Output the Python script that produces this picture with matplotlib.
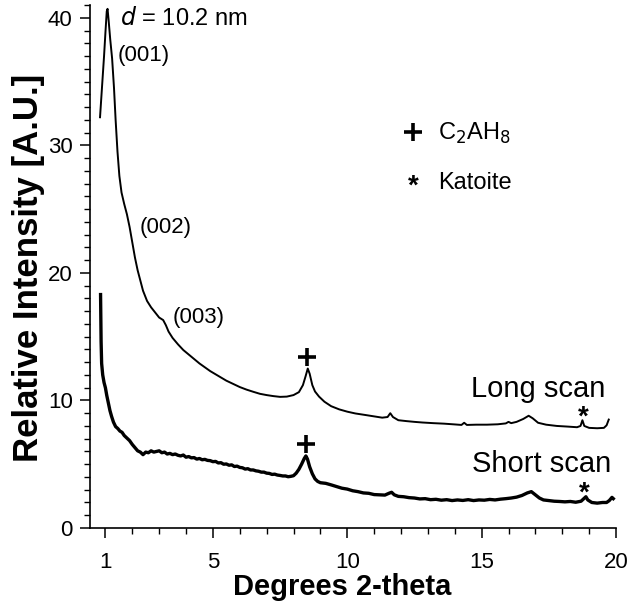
import numpy as np
import matplotlib
matplotlib.use("Agg")
import matplotlib.pyplot as plt
from matplotlib.ticker import MultipleLocator, FixedLocator

plt.rcParams["font.family"] = ["Liberation Sans", "DejaVu Sans"]

# Long scan (2-theta, intensity)
long_x = [0.80, 0.85, 0.90, 0.95, 1.00, 1.05, 1.08, 1.12, 1.18, 1.25, 1.32, 1.38, 1.45,
          1.52, 1.60, 1.70, 1.80, 1.90, 2.00, 2.10, 2.20, 2.30, 2.40, 2.55, 2.70, 2.85,
          3.00, 3.15, 3.25, 3.35, 3.50, 3.70, 3.90, 4.10, 4.30, 4.50, 4.70, 4.90, 5.10,
          5.30, 5.50, 5.75, 6.00, 6.25, 6.50, 6.75, 7.00, 7.25, 7.50, 7.75, 8.00, 8.20,
          8.35, 8.45, 8.53, 8.60, 8.70, 8.80, 8.95, 9.15, 9.40, 9.70, 10.0, 10.3, 10.7,
          11.0, 11.3, 11.5, 11.6, 11.7, 11.9, 12.2, 12.5, 12.8, 13.2, 13.6, 14.0, 14.25,
          14.35, 14.45, 14.8, 15.2, 15.6, 15.9, 16.0, 16.1, 16.3, 16.55, 16.75, 16.9,
          17.1, 17.4, 17.8, 18.2, 18.55, 18.68, 18.75, 18.82, 19.0, 19.3, 19.55, 19.65,
          19.73]
long_y = [32.2, 33.8, 35.4, 37.0, 38.8, 40.5, 40.7, 39.8, 38.3, 36.8, 34.5, 32.0, 29.5,
          27.6, 26.3, 25.4, 24.6, 23.6, 22.4, 21.2, 20.2, 19.4, 18.6, 17.8, 17.3, 16.9,
          16.5, 16.3, 15.9, 15.4, 14.9, 14.4, 13.95, 13.6, 13.25, 12.9, 12.6, 12.3, 12.05,
          11.8, 11.55, 11.3, 11.05, 10.85, 10.68, 10.52, 10.42, 10.34, 10.28, 10.30, 10.42,
          10.65, 11.2, 11.9, 12.5, 12.1, 11.2, 10.7, 10.3, 9.9, 9.55, 9.3, 9.12, 8.98, 8.85,
          8.75, 8.65, 8.7, 9.0, 8.7, 8.45, 8.38, 8.32, 8.27, 8.22, 8.18, 8.12, 8.08,
          8.25, 8.08, 8.1, 8.1, 8.13, 8.2, 8.32, 8.22, 8.32, 8.55, 8.8, 8.6,
          8.25, 8.1, 8.0, 7.95, 7.9, 8.0, 8.45, 8.0, 7.85, 7.82, 7.85, 8.05,
          8.5]

# Short scan
short_x = [0.82, 0.83, 0.84, 0.86, 0.90, 0.95, 1.00, 1.05, 1.10, 1.17, 1.23, 1.30, 1.38,
           1.46, 1.54, 1.62, 1.70, 1.80, 1.90, 2.00, 2.10, 2.20, 2.30, 2.40, 2.50, 2.60,
           2.70, 2.80, 2.90, 3.00, 3.10, 3.20, 3.30, 3.40, 3.50, 3.60, 3.70, 3.80, 3.90,
           4.00, 4.10, 4.20, 4.30, 4.40, 4.50, 4.60, 4.70, 4.80, 4.90, 5.00, 5.10, 5.20,
           5.30, 5.40, 5.50, 5.60, 5.70, 5.80, 5.90, 6.00, 6.10, 6.20, 6.30, 6.40, 6.50,
           6.60, 6.70, 6.80, 6.90, 7.00, 7.10, 7.20, 7.30, 7.40, 7.50, 7.60, 7.70, 7.80,
           7.90, 8.00, 8.10, 8.20, 8.30, 8.40, 8.46, 8.52, 8.60, 8.70, 8.80, 8.90, 9.00,
           9.20, 9.40, 9.60, 9.80, 10.0, 10.2, 10.4, 10.6, 10.8, 11.0, 11.2, 11.4, 11.55,
           11.65, 11.75, 11.9, 12.1, 12.3, 12.5, 12.7, 12.9, 13.1, 13.3, 13.5, 13.7, 13.9,
           14.1, 14.3, 14.5, 14.7, 14.9, 15.1, 15.3, 15.5, 15.7, 15.9, 16.1, 16.3, 16.5,
           16.7, 16.85, 17.0, 17.15, 17.3, 17.5, 17.7, 17.9, 18.1, 18.3, 18.5, 18.7, 18.8,
           18.88, 18.95, 19.1, 19.3, 19.5, 19.65, 19.75, 19.85, 19.9]
short_y = [18.3, 16.4, 14.6, 12.9, 12.0, 11.4, 11.0, 10.4, 9.9, 9.2, 8.75, 8.3, 7.95,
           7.8, 7.6, 7.5, 7.25, 7.05, 6.85, 6.55, 6.3, 6.05, 5.95, 5.75, 5.95, 5.9,
           6.05, 5.95, 6.0, 6.05, 5.9, 5.95, 5.8, 5.85, 5.75, 5.8, 5.7, 5.65, 5.72,
           5.55, 5.6, 5.5, 5.52, 5.4, 5.45, 5.35, 5.38, 5.3, 5.28, 5.2, 5.22, 5.1,
           5.12, 5.0, 5.02, 4.92, 4.95, 4.82, 4.85, 4.75, 4.72, 4.62, 4.65, 4.55, 4.55,
           4.48, 4.45, 4.38, 4.38, 4.3, 4.28, 4.2, 4.22, 4.15, 4.12, 4.08, 4.08, 4.02,
           4.05, 4.1, 4.3, 4.6, 5.0, 5.45, 5.65, 5.4, 4.8, 4.25, 3.85, 3.65, 3.55,
           3.5, 3.38, 3.25, 3.12, 3.05, 2.92, 2.85, 2.75, 2.72, 2.62, 2.6, 2.58, 2.72,
           2.8, 2.6, 2.48, 2.45, 2.38, 2.35, 2.28, 2.3, 2.22, 2.25, 2.18, 2.22, 2.15,
           2.2, 2.16, 2.22, 2.15, 2.2, 2.18, 2.24, 2.2, 2.26, 2.3, 2.35, 2.42, 2.55,
           2.75, 2.85, 2.6, 2.35, 2.2, 2.15, 2.1, 2.08, 2.05, 2.08, 2.02, 2.1, 2.3,
           2.45, 2.2, 2.0, 1.95, 2.0, 2.0, 2.15, 2.4, 2.3]

peak_labels = ["(001)", "(002)", "(003)"]
peak_label_pos = [(1.44, 36.6), (2.26, 23.1), (3.50, 16.1)]
c2ah8_pos = [(8.51, 13.43), (8.45, 6.59)]
katoite_pos = [(18.77, 8.65), (18.83, 2.72)]

fig = plt.figure(figsize=(6.29, 6.12), dpi=100)
ax = fig.add_axes([90 / 629, 1 - 528 / 612, 526 / 629, 523 / 612])

ax.plot(long_x, long_y, color="black", lw=1.4)
ax.plot(short_x, short_y, color="black", lw=2.4)

ax.set_xlim(0.427, 20)
ax.set_ylim(0, 41)

for s in ["top", "right"]:
    ax.spines[s].set_visible(False)
for s in ["left", "bottom"]:
    ax.spines[s].set_linewidth(1.2)

ax.xaxis.set_major_locator(FixedLocator([1, 5, 10, 15, 20]))
ax.xaxis.set_minor_locator(MultipleLocator(1))
ax.yaxis.set_major_locator(MultipleLocator(10))
ax.yaxis.set_minor_locator(MultipleLocator(1))
ax.tick_params(which="major", direction="out", length=7.5, width=1.1, labelsize=16)
ax.tick_params(which="minor", direction="out", length=4, width=1.0)
ax.tick_params(axis="x", which="major", pad=10)
ax.tick_params(axis="y", which="major", pad=5)

ax.set_xlabel("Degrees 2-theta", fontsize=21, fontweight="bold")
ax.xaxis.set_label_coords(0.479, -0.086)
ax.set_ylabel("Relative Intensity [A.U.]", fontsize=25, fontweight="bold")
ax.yaxis.set_label_coords(-0.085, 0.497)

ax.text(1.54, 39.45, r"$d$ = 10.2 nm", fontsize=17, ha="left", va="baseline")
for lab, (x, y) in zip(peak_labels, peak_label_pos):
    ax.text(x, y, lab, fontsize=16, ha="left", va="baseline")

ax.text(19.62, 10.3, "Long scan", fontsize=21, ha="right", va="baseline")
ax.text(19.82, 4.42, "Short scan", fontsize=21, ha="right", va="baseline")

for x, y in c2ah8_pos:
    ax.plot(x, y, marker="+", ms=13, mew=2.6, color="black")
for x, y in katoite_pos:
    ax.text(x, y, "*", fontsize=20, fontweight="bold", ha="center", va="center")

# legend
ax.plot(12.44, 31.06, marker="+", ms=13, mew=2.6, color="black")
ax.text(13.38, 30.4, r"C$_2$AH$_8$", fontsize=17, ha="left", va="baseline")
ax.text(12.44, 26.8, "*", fontsize=20, fontweight="bold", ha="center", va="center")
ax.text(13.38, 26.6, "Katoite", fontsize=17, ha="left", va="baseline")

fig.savefig("out.png", dpi=100)
